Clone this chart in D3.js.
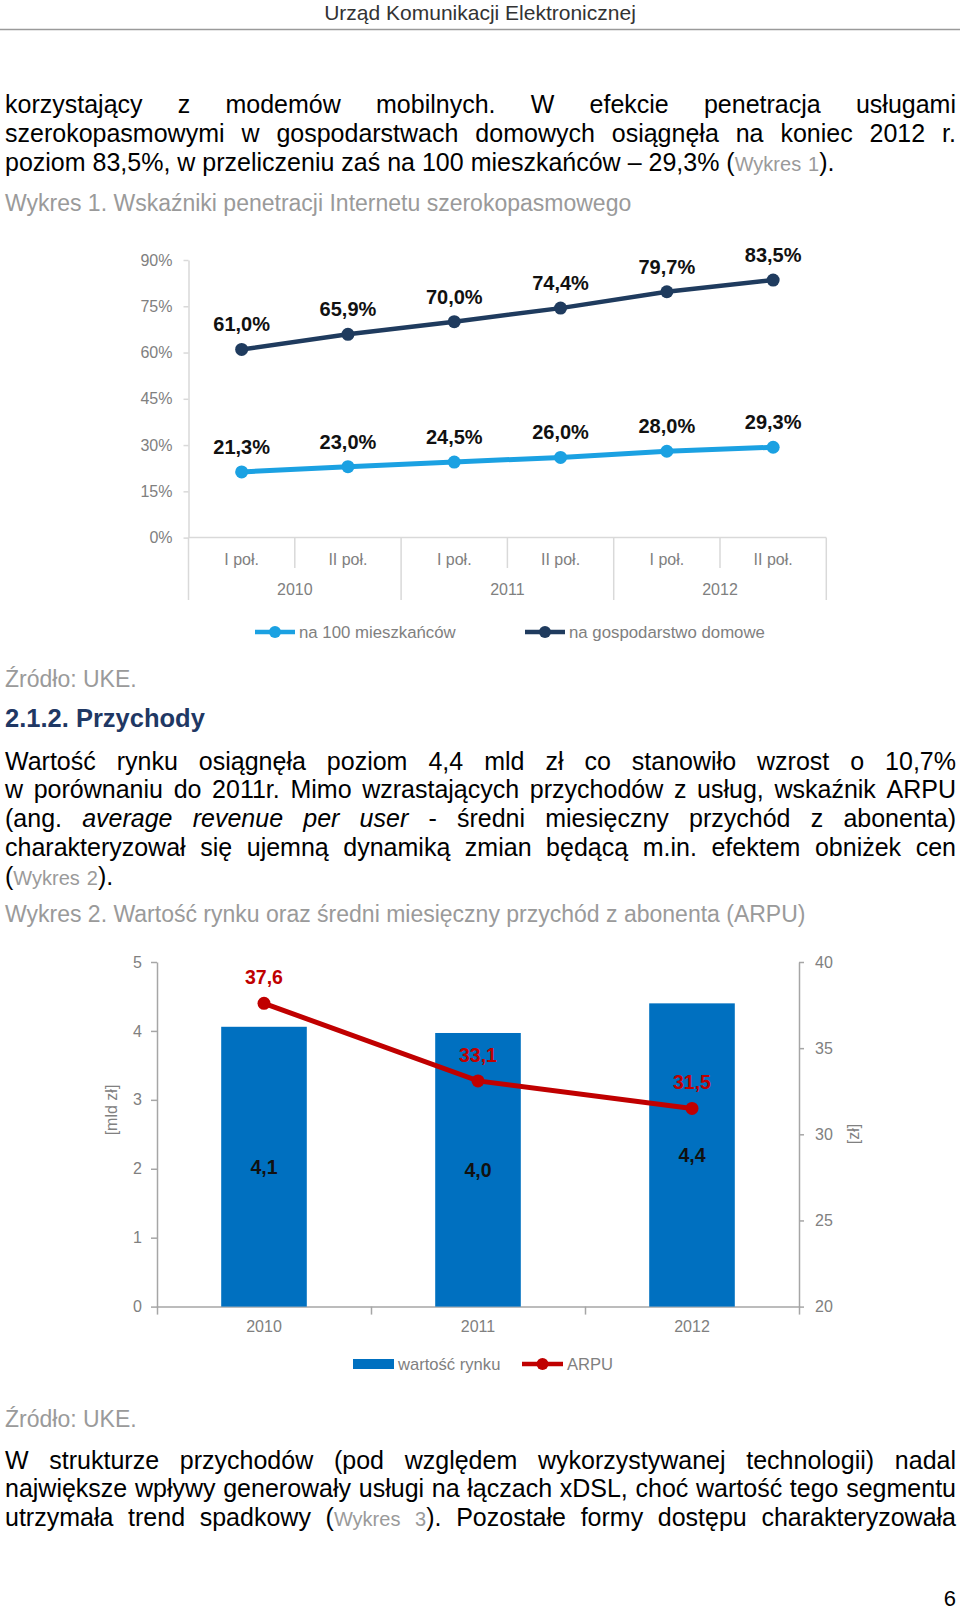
<!DOCTYPE html>
<html>
<head>
<meta charset="utf-8">
<script src="https://d3js.org/d3.v7.min.js"></script>
<style>
  body { margin: 0; background: #fff; }
  svg { display: block; font-family: "Liberation Sans", Arial, sans-serif; }
</style>
</head>
<body>
<script>
// DATA
const headerTitle = "Urząd Komunikacji Elektronicznej"
const pageNumber = "6"

// {..} = grey reference, |..| = italic
const para1 = [
  "korzystający z modemów mobilnych. W efekcie penetracja usługami",
  "szerokopasmowymi w gospodarstwach domowych osiągnęła na koniec 2012 r.",
  "poziom 83,5%, w przeliczeniu zaś na 100 mieszkańców – 29,3% ({Wykres 1})."
]
const caption1 = "Wykres 1. Wskaźniki penetracji Internetu szerokopasmowego"
const source = "Źródło: UKE."
const heading = "2.1.2. Przychody"
const para2 = [
  "Wartość rynku osiągnęła poziom 4,4 mld zł co stanowiło wzrost o 10,7%",
  "w porównaniu do 2011r. Mimo wzrastających przychodów z usług, wskaźnik ARPU",
  "(ang. |average revenue per user| - średni miesięczny przychód z abonenta)",
  "charakteryzował się ujemną dynamiką zmian będącą m.in. efektem obniżek cen",
  "({Wykres 2})."
]
const caption2 = "Wykres 2. Wartość rynku oraz średni miesięczny przychód z abonenta (ARPU)"
const para3 = [
  "W strukturze przychodów (pod względem wykorzystywanej technologii) nadal",
  "największe wpływy generowały usługi na łączach xDSL, choć wartość tego segmentu",
  "utrzymała trend spadkowy ({Wykres 3}). Pozostałe formy dostępu charakteryzowała"
]

// chart 1
const years = ["2010", "2011", "2012"]
const halves = ["I poł.", "II poł."]
const pctTicks = [0, 15, 30, 45, 60, 75, 90]
const perHousehold = [61.0, 65.9, 70.0, 74.4, 79.7, 83.5]
const per100 = [21.3, 23.0, 24.5, 26.0, 28.0, 29.3]
const legend1 = ["na 100 mieszkańców", "na gospodarstwo domowe"]

// chart 2
const years2 = ["2010", "2011", "2012"]
const marketValue = [4.06, 3.97, 4.40]   // mld zł
const arpu = [37.6, 33.1, 31.5]          // zł
const leftTicks = [0, 1, 2, 3, 4, 5]
const rightTicks = [20, 25, 30, 35, 40]
const legend2 = ["wartość rynku", "ARPU"]
const axisTitles = ["[mld zł]", "[zł]"]

// VARIABLES
const W = 960, H = 1612
const textLeft = 5, textRight = 956
const bodySize = 25, refSize = 20
const grey = "#9a9a9a"
const dark = "#1f3b5e", light = "#1ba1e2", barBlue = "#0070c0", red = "#c00000"
const pl = d3.formatLocale({ decimal: ",", thousands: " ", grouping: [3], currency: ["", ""] })
const f1 = pl.format(".1f")

const svg = d3.select("body").append("svg")
  .attr("width", W).attr("height", H)

svg.append("rect").attr("width", W).attr("height", H).attr("fill", "#fff")

// HELPERS
// split line into words made of styled runs
function parseLine(str) {
  const words = []
  let grey_ = false, ital = false, cur = [], buf = ""
  const flush = () => { if (buf) cur.push({ t: buf, g: grey_, i: ital }); buf = "" }
  for (const ch of str) {
    if (ch === "{" || ch === "}" || ch === "|") {
      flush()
      if (ch === "{") grey_ = true
      else if (ch === "}") grey_ = false
      else ital = !ital
    } else if (ch === " ") {
      flush()
      if (cur.length) words.push(cur)
      cur = []
    } else buf += ch
  }
  flush()
  if (cur.length) words.push(cur)
  return words
}

function addRuns(text, runs, color, size, rSize) {
  runs.forEach(r => {
    text.append("tspan")
      .attr("fill", r.g ? grey : color)
      .attr("font-size", r.g ? rSize : size)
      .attr("font-style", r.i ? "italic" : "normal")
      .text(r.t)
  })
}

function measure(runs, size, rSize, bold) {
  const t = svg.append("text").attr("font-weight", bold ? "bold" : "normal")
  addRuns(t, runs, "#000", size, rSize)
  const w = t.node().getComputedTextLength()
  t.remove()
  return w
}

function textLine(str, y, opts = {}) {
  const size = opts.size || bodySize
  const rSize = opts.refSize || refSize
  const color = opts.color || "#000"
  const words = parseLine(str)
  const widths = words.map(w => measure(w, size, rSize, opts.bold))
  const spaceW = measure([{ t: "x x" }], size, rSize, opts.bold) - measure([{ t: "xx" }], size, rSize, opts.bold)
  const total = d3.sum(widths)
  const gap = opts.justify && words.length > 1
    ? (textRight - textLeft - total) / (words.length - 1) : spaceW
  const t = svg.append("text")
    .attr("y", y)
    .attr("font-weight", opts.bold ? "bold" : "normal")
  let x = textLeft
  words.forEach((w, i) => {
    const start = t.node().childNodes.length
    addRuns(t, w, color, size, rSize)
    d3.select(t.node().childNodes[start]).attr("x", x)
    x += widths[i] + gap
  })
  return t
}

function paragraph(lines, y0, step, lastJustified) {
  lines.forEach((l, i) => textLine(l, y0 + i * step, { justify: lastJustified || i < lines.length - 1 }))
}

// PAGE TEXT
svg.append("text").attr("x", 480).attr("y", 19.5)
  .attr("text-anchor", "middle").attr("font-size", 21).attr("fill", "#333")
  .text(headerTitle)
svg.append("line").attr("x1", 0).attr("x2", 960).attr("y1", 29.5).attr("y2", 29.5)
  .attr("stroke", "#9a9a9a").attr("stroke-width", 1.5)

paragraph(para1, 113, 28.8)
textLine(caption1, 211, { color: grey, size: 23 })
textLine(source, 686.5, { color: grey, size: 23 })
textLine(heading, 727, { color: "#1f3864", bold: true, size: 25.5 })
paragraph(para2, 769.5, 28.8)
textLine(caption2, 921.5, { color: grey, size: 23 })
textLine(source, 1426.5, { color: grey, size: 23 })
paragraph(para3, 1468.5, 28.8, true)
svg.append("text").attr("x", 956).attr("y", 1606).attr("text-anchor", "end")
  .attr("font-size", 22).attr("fill", "#000").text(pageNumber)

// CHART 1
function buildChart1() {
  const c = { left: 188.5, right: 826.3, top: 260, bottom: 537.6 }
  const periods = years.flatMap(y => halves.map(h => y + " " + h))
  const x = d3.scaleBand().domain(periods).range([c.left, c.right])
  const y = d3.scaleLinear().domain([0, 90]).range([c.bottom, c.top])
  const axisCol = "#d9d9d9", labCol = "#808080"
  const cx = i => x(periods[i]) + x.bandwidth() / 2

  const ax = svg.append("g").attr("transform", `translate(${c.left},0)`)
    .call(d3.axisLeft(y).tickValues(pctTicks).tickSize(5).tickSizeOuter(0).tickPadding(11)
      .tickFormat(d => d + "%"))
  ax.selectAll("path, line").attr("stroke", axisCol).attr("stroke-width", 1.5)
  ax.selectAll("text").attr("fill", labCol).attr("font-size", 16)
    .attr("font-family", "Liberation Sans, Arial, sans-serif")

  svg.append("line").attr("x1", c.left).attr("x2", c.right).attr("y1", c.bottom).attr("y2", c.bottom)
    .attr("stroke", axisCol).attr("stroke-width", 1.5)

  // separators between halves and years
  d3.range(periods.length + 1).forEach(i => {
    const xx = c.left + i * x.step()
    svg.append("line").attr("x1", xx).attr("x2", xx)
      .attr("y1", c.bottom).attr("y2", i % 2 === 0 ? 600 : 568)
      .attr("stroke", axisCol).attr("stroke-width", 1.5)
  })

  svg.append("g").selectAll("text").data(periods).join("text")
    .attr("x", (d, i) => cx(i)).attr("y", 559).attr("dy", "0.35em")
    .attr("text-anchor", "middle").attr("font-size", 16).attr("fill", labCol)
    .text(d => d.split(" ").slice(1).join(" "))

  svg.append("g").selectAll("text").data(years).join("text")
    .attr("x", (d, i) => c.left + (i * 2 + 1) * x.step()).attr("y", 589).attr("dy", "0.35em")
    .attr("text-anchor", "middle").attr("font-size", 16).attr("fill", labCol)
    .text(d => d)

  const line = d3.line().x((d, i) => cx(i)).y(d => y(d))
  const series = [
    { values: per100, color: light, width: 5 },
    { values: perHousehold, color: dark, width: 4.5 }
  ]
  series.forEach(s => {
    svg.append("path").datum(s.values).attr("d", line)
      .attr("fill", "none").attr("stroke", s.color).attr("stroke-width", s.width)
    svg.append("g").selectAll("circle").data(s.values).join("circle")
      .attr("cx", (d, i) => cx(i)).attr("cy", d => y(d)).attr("r", 6.5).attr("fill", s.color)
    svg.append("g").selectAll("text").data(s.values).join("text")
      .attr("x", (d, i) => cx(i)).attr("y", d => y(d) - 25).attr("dy", "0.35em")
      .attr("text-anchor", "middle").attr("font-size", 20).attr("font-weight", "bold")
      .attr("fill", "#111").text(d => f1(d) + "%")
  })

  // legend
  const lg = [{ x: 255, color: light, label: legend1[0] }, { x: 525, color: dark, label: legend1[1] }]
  lg.forEach(l => {
    const g = svg.append("g").attr("transform", `translate(${l.x},632)`)
    g.append("line").attr("x1", 0).attr("x2", 40).attr("stroke", l.color).attr("stroke-width", 4.5)
    g.append("circle").attr("cx", 20).attr("r", 6).attr("fill", l.color)
    g.append("text").attr("x", 44).attr("dy", "0.35em").attr("font-size", 16.8)
      .attr("fill", labCol).text(l.label)
  })
}

// CHART 2
function buildChart2() {
  const c = { left: 157, right: 799, top: 962, bottom: 1306.6 }
  const x = d3.scaleBand().domain(years2).range([c.left, c.right])
  const yL = d3.scaleLinear().domain([0, 5]).range([c.bottom, c.top])
  const yR = d3.scaleLinear().domain([20, 40]).range([c.bottom, c.top])
  const axisCol = "#a6a6a6", labCol = "#808080"
  const barW = x.bandwidth() * 0.4
  const cx = d => x(d) + x.bandwidth() / 2

  const styleAxis = g => {
    g.selectAll("path, line").attr("stroke", axisCol).attr("stroke-width", 1.5)
    g.selectAll("text").attr("fill", labCol).attr("font-size", 16)
      .attr("font-family", "Liberation Sans, Arial, sans-serif")
  }
  svg.append("g").attr("transform", `translate(${c.left},0)`)
    .call(d3.axisLeft(yL).tickValues(leftTicks).tickSize(6).tickSizeOuter(0).tickPadding(9)
      .tickFormat(d3.format("d")))
    .call(styleAxis)
  svg.append("g").attr("transform", `translate(${c.right},0)`)
    .call(d3.axisRight(yR).tickValues(rightTicks).tickSize(5).tickSizeOuter(0).tickPadding(11)
      .tickFormat(d3.format("d")))
    .call(styleAxis)

  const xb = d3.scaleLinear().domain([0, years2.length]).range([c.left, c.right])
  svg.append("g").attr("transform", `translate(0,${c.bottom})`)
    .call(d3.axisBottom(xb).tickValues(d3.range(years2.length + 1)).tickSize(8).tickSizeOuter(0).tickFormat(""))
    .call(styleAxis)

  svg.append("g").selectAll("rect").data(marketValue).join("rect")
    .attr("x", (d, i) => cx(years2[i]) - barW / 2).attr("width", barW)
    .attr("y", d => yL(d)).attr("height", d => c.bottom - yL(d)).attr("fill", barBlue)

  svg.append("g").selectAll("text").data(marketValue).join("text")
    .attr("x", (d, i) => cx(years2[i])).attr("y", d => (yL(d) + c.bottom) / 2).attr("dy", "0.35em")
    .attr("text-anchor", "middle").attr("font-size", 19.5).attr("font-weight", "bold")
    .attr("fill", "#111").text(d => f1(d))

  const line = d3.line().x((d, i) => cx(years2[i])).y(d => yR(d))
  svg.append("path").datum(arpu).attr("d", line)
    .attr("fill", "none").attr("stroke", red).attr("stroke-width", 5)
  svg.append("g").selectAll("circle").data(arpu).join("circle")
    .attr("cx", (d, i) => cx(years2[i])).attr("cy", d => yR(d)).attr("r", 6.5).attr("fill", red)
  svg.append("g").selectAll("text").data(arpu).join("text")
    .attr("x", (d, i) => cx(years2[i])).attr("y", d => yR(d) - 26).attr("dy", "0.35em")
    .attr("text-anchor", "middle").attr("font-size", 19.5).attr("font-weight", "bold")
    .attr("fill", red).text(d => f1(d))

  svg.append("g").selectAll("text").data(years2).join("text")
    .attr("x", d => cx(d)).attr("y", 1326).attr("dy", "0.35em")
    .attr("text-anchor", "middle").attr("font-size", 16).attr("fill", labCol).text(d => d)

  svg.append("text").attr("transform", "translate(111,1110) rotate(-90)")
    .attr("text-anchor", "middle").attr("dy", "0.35em").attr("font-size", 16)
    .attr("fill", labCol).text(axisTitles[0])
  svg.append("text").attr("transform", "translate(853,1134) rotate(-90)")
    .attr("text-anchor", "middle").attr("dy", "0.35em").attr("font-size", 16)
    .attr("fill", labCol).text(axisTitles[1])

  // legend
  const g1 = svg.append("g").attr("transform", "translate(353,1364)")
  g1.append("rect").attr("y", -5).attr("width", 41).attr("height", 10).attr("fill", barBlue)
  g1.append("text").attr("x", 45).attr("dy", "0.35em").attr("font-size", 16.6)
    .attr("fill", labCol).text(legend2[0])
  const g2 = svg.append("g").attr("transform", "translate(522,1364)")
  g2.append("line").attr("x1", 0).attr("x2", 41).attr("stroke", red).attr("stroke-width", 4.5)
  g2.append("circle").attr("cx", 20.5).attr("r", 6).attr("fill", red)
  g2.append("text").attr("x", 45).attr("dy", "0.35em").attr("font-size", 16.6)
    .attr("fill", labCol).text(legend2[1])
}

buildChart1()
buildChart2()
</script>
</body>
</html>
